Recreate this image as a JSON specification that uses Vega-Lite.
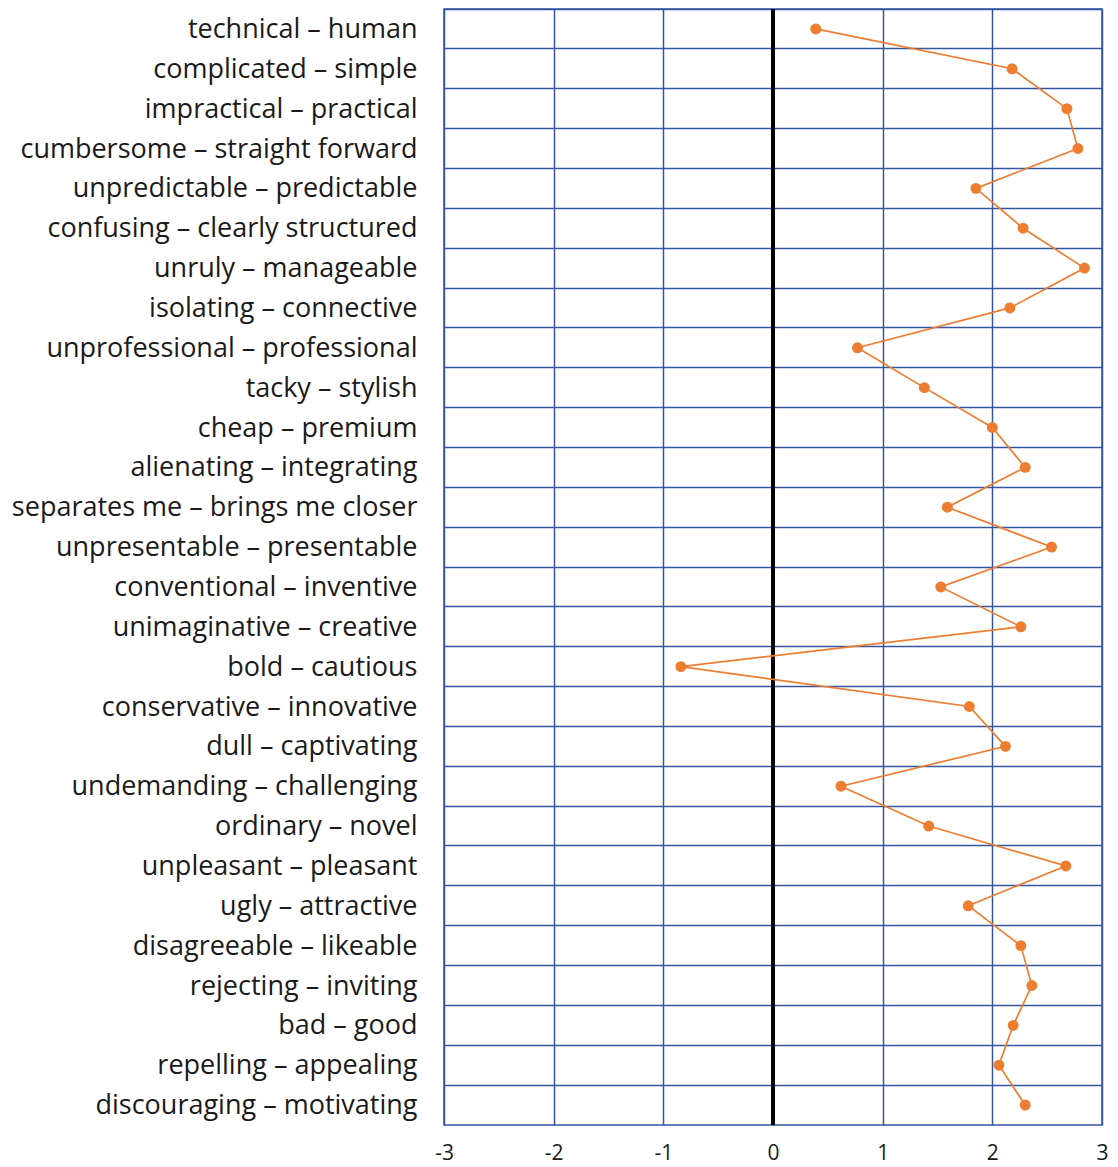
{
  "$schema": "https://vega.github.io/schema/vega-lite/v6.json",
  "autosize": {"type": "none"},
  "width": 658,
  "height": 1116,
  "padding": {"left": 444, "top": 9, "right": 16, "bottom": 42},
  "background": "white",
  "config": {
    "view": {"stroke": "#34559f", "strokeWidth": 1.5},
    "font": "Open Sans"
  },
  "data": {
    "values": [
      {"i": 1, "pair": "technical – human", "value": 0.39},
      {"i": 2, "pair": "complicated – simple", "value": 2.18},
      {"i": 3, "pair": "impractical – practical", "value": 2.68},
      {"i": 4, "pair": "cumbersome – straight forward", "value": 2.78},
      {"i": 5, "pair": "unpredictable – predictable", "value": 1.85},
      {"i": 6, "pair": "confusing – clearly structured", "value": 2.28},
      {"i": 7, "pair": "unruly – manageable", "value": 2.84},
      {"i": 8, "pair": "isolating – connective", "value": 2.16},
      {"i": 9, "pair": "unprofessional – professional", "value": 0.77},
      {"i": 10, "pair": "tacky – stylish", "value": 1.38},
      {"i": 11, "pair": "cheap – premium", "value": 2.0},
      {"i": 12, "pair": "alienating – integrating", "value": 2.3},
      {"i": 13, "pair": "separates me – brings me closer", "value": 1.59},
      {"i": 14, "pair": "unpresentable – presentable", "value": 2.54},
      {"i": 15, "pair": "conventional – inventive", "value": 1.53},
      {"i": 16, "pair": "unimaginative – creative", "value": 2.26},
      {"i": 17, "pair": "bold – cautious", "value": -0.84},
      {"i": 18, "pair": "conservative – innovative", "value": 1.79},
      {"i": 19, "pair": "dull – captivating", "value": 2.12},
      {"i": 20, "pair": "undemanding – challenging", "value": 0.62},
      {"i": 21, "pair": "ordinary – novel", "value": 1.42},
      {"i": 22, "pair": "unpleasant – pleasant", "value": 2.67},
      {"i": 23, "pair": "ugly – attractive", "value": 1.78},
      {"i": 24, "pair": "disagreeable – likeable", "value": 2.26},
      {"i": 25, "pair": "rejecting – inviting", "value": 2.36},
      {"i": 26, "pair": "bad – good", "value": 2.19},
      {"i": 27, "pair": "repelling – appealing", "value": 2.06},
      {"i": 28, "pair": "discouraging – motivating", "value": 2.3}
    ]
  },
  "encoding": {
    "y": {
      "field": "pair",
      "type": "nominal",
      "sort": null,
      "scale": {"type": "band", "paddingInner": 0, "paddingOuter": 0},
      "axis": {
        "title": null,
        "domain": false,
        "ticks": false,
        "grid": true,
        "bandPosition": 0,
        "gridColor": "#34559f",
        "gridWidth": 1.5,
        "gridOpacity": 1,
        "labelFontSize": 27,
        "labelColor": "#1a1a1a",
        "labelPadding": 27,
        "labelLimit": 600,
        "labelBaseline": "middle",
        "labelOffset": 1
      }
    }
  },
  "layer": [
    {
      "mark": {"type": "rule", "color": "black", "strokeWidth": 3},
      "encoding": {"x": {"datum": 0, "type": "quantitative"}, "y": null}
    },
    {
      "mark": {
        "type": "line",
        "color": "#ed7d31",
        "strokeWidth": 1.7,
        "point": {"filled": true, "size": 120, "color": "#ed7d31", "opacity": 1}
      },
      "encoding": {
        "x": {
          "field": "value",
          "type": "quantitative",
          "scale": {"domain": [-3, 3], "nice": false, "zero": false},
          "axis": {
            "title": null,
            "values": [-3, -2, -1, 0, 1, 2, 3],
            "labelExpr": "'' + datum.value",
            "labelFlush": false,
            "domain": false,
            "ticks": false,
            "grid": true,
            "gridColor": "#34559f",
            "gridWidth": 1.5,
            "gridOpacity": 1,
            "labelFontSize": 21,
            "labelColor": "#1a1a1a",
            "labelPadding": 17
          }
        },
        "order": {"field": "i", "type": "quantitative"}
      }
    }
  ]
}
